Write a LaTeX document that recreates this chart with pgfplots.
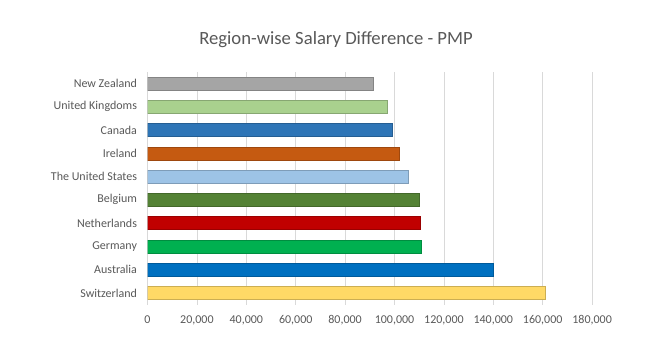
\documentclass[border=0pt]{standalone}
\usepackage{pgfplots}
\pgfplotsset{compat=1.18}
\usepackage{fontspec}
\setmainfont{Carlito}
\definecolor{txt}{HTML}{595959}
\definecolor{gridc}{HTML}{D9D9D9}
\definecolor{cNZ}{HTML}{A5A5A5}
\definecolor{cUK}{HTML}{A9D18E}
\definecolor{cCA}{HTML}{2E75B6}
\definecolor{cIE}{HTML}{C55A11}
\definecolor{cUS}{HTML}{9DC3E6}
\definecolor{cBE}{HTML}{548235}
\definecolor{cNL}{HTML}{C00000}
\definecolor{cDE}{HTML}{00B050}
\definecolor{cAU}{HTML}{0070C0}
\definecolor{cCH}{HTML}{FFD966}
\begin{document}
\begin{tikzpicture}[x=1bp,y=1bp]
\useasboundingbox (0,0) rectangle (671,360);
\fill[white] (0,0) rectangle (671,360);
\node[font=\fontsize{18.67bp}{22bp}\selectfont, text=txt] at (336,320) {Region-wise Salary Difference - PMP};
\begin{axis}[
  at={(147.5bp,55.3bp)}, anchor=south west,
  scale only axis, width=444.6bp, height=233bp,
  xmin=0, xmax=180000, ymin=-0.5, ymax=9.5,
  xbar, bar width=13bp, bar shift=0pt,
  axis line style={draw=none},
  ytick={0,...,9},
  yticklabels={Switzerland,Australia,Germany,Netherlands,Belgium,The United States,Ireland,Canada,United Kingdoms,New Zealand},
  xtick={0,20000,...,180000},
  xmajorgrids, grid style={draw=gridc, line width=0.8pt},
  major tick length=0pt,
  tick label style={text=txt, font=\fontsize{12bp}{14bp}\selectfont},
  xticklabel style={yshift=-7bp},
  yticklabel style={xshift=-7bp},
  scaled x ticks=false,
  /pgf/number format/fixed,
  /pgf/number format/1000 sep={,},
  /pgf/number format/assume math mode=true,
]
\addplot[fill=cCH, draw=cCH!80!black] coordinates {(161000,0)};
\addplot[fill=cAU, draw=cAU!80!black] coordinates {(140000,1)};
\addplot[fill=cDE, draw=cDE!80!black] coordinates {(111000,2)};
\addplot[fill=cNL, draw=cNL!80!black] coordinates {(110500,3)};
\addplot[fill=cBE, draw=cBE!80!black] coordinates {(110000,4)};
\addplot[fill=cUS, draw=cUS!80!black] coordinates {(105500,5)};
\addplot[fill=cIE, draw=cIE!80!black] coordinates {(102000,6)};
\addplot[fill=cCA, draw=cCA!80!black] coordinates {(99000,7)};
\addplot[fill=cUK, draw=cUK!80!black] coordinates {(97000,8)};
\addplot[fill=cNZ, draw=cNZ!80!black] coordinates {(91500,9)};
\end{axis}
\end{tikzpicture}
\end{document}
